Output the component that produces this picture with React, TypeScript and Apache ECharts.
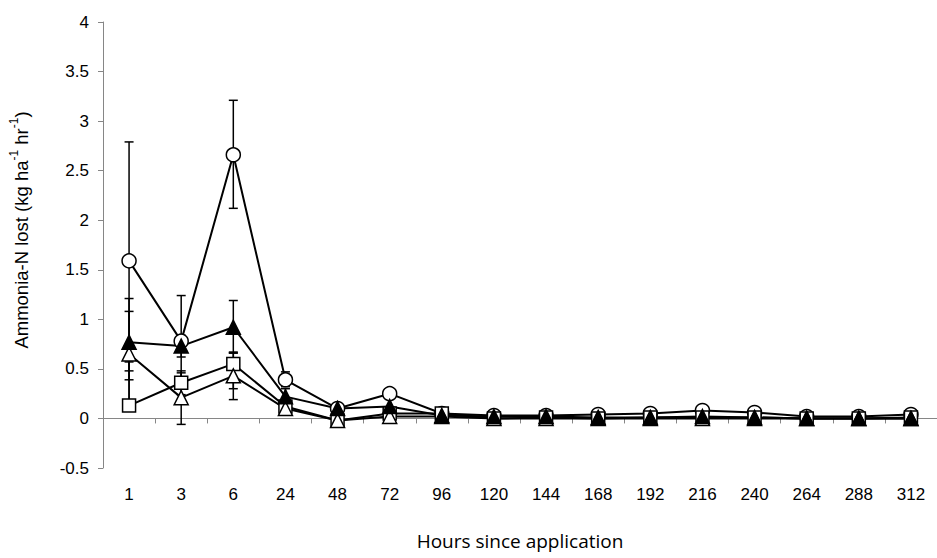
import React, { useEffect, useRef } from "react";
import * as echarts from "echarts";

const categories = ["1", "3", "6", "24", "48", "72", "96", "120", "144", "168", "192", "216", "240", "264", "288", "312"];

const circleValues = [1.59, 0.78, 2.66, 0.39, 0.1, 0.25, 0.05, 0.03, 0.03, 0.04, 0.05, 0.08, 0.06, 0.02, 0.02, 0.04];
const filledTriValues = [0.77, 0.73, 0.92, 0.22, 0.1, 0.12, 0.03, 0.02, 0.02, 0.01, 0.01, 0.02, 0.01, 0.0, 0.0, 0.0];
const squareValues = [0.13, 0.36, 0.55, 0.12, -0.02, 0.05, 0.05, 0.0, 0.01, 0.0, 0.01, 0.01, 0.01, 0.0, 0.0, 0.01];
const openTriValues = [0.65, 0.21, 0.43, 0.1, -0.02, 0.02, 0.02, 0.0, 0.0, 0.0, 0.0, 0.0, 0.0, 0.0, 0.0, 0.0];

// error bar ends [category index, low, high]
const circleErr = [[0, 0.39, 2.79], [1, 0.32, 1.24], [2, 2.12, 3.21], [3, 0.32, 0.47]];
const filledTriErr = [[0, 0.48, 1.08], [1, 0.62, 0.84], [2, 0.66, 1.19], [3, 0.14, 0.3]];
const squareErr = [[0, 0.13, 0.57], [1, 0.24, 0.48], [2, 0.3, 0.66]];
const openTriErr = [[0, 0.09, 1.21], [1, -0.06, 0.46], [2, 0.19, 0.67]];

const yTicksMin = -0.5;
const yTicksMax = 4;
const yInterval = 0.5;

const AXIS_GRAY = "#868686";
const FONT = "Arial";

function errorSeries(data: number[][]) {
  return {
    type: "custom",
    xAxisIndex: 0,
    yAxisIndex: 0,
    z: 1,
    silent: true,
    data,
    renderItem: (_params: any, api: any) => {
      const x = api.value(0);
      const lo = api.coord([x, api.value(1)]);
      const hi = api.coord([x, api.value(2)]);
      const w = 4.5;
      const style = { stroke: "#000", lineWidth: 1.5 };
      return {
        type: "group",
        children: [
          { type: "line", shape: { x1: hi[0], y1: hi[1], x2: lo[0], y2: lo[1] }, style },
          { type: "line", shape: { x1: hi[0] - w, y1: hi[1], x2: hi[0] + w, y2: hi[1] }, style },
          { type: "line", shape: { x1: lo[0] - w, y1: lo[1], x2: lo[0] + w, y2: lo[1] }, style },
        ],
      };
    },
  };
}

function lineSeries(name: string, data: number[], symbol: string, size: number, fill: string) {
  return {
    name,
    type: "line",
    xAxisIndex: 0,
    yAxisIndex: 0,
    data,
    symbol,
    symbolSize: size,
    showAllSymbol: true,
    lineStyle: { color: "#000", width: 2 },
    itemStyle: { color: fill, borderColor: "#000", borderWidth: 1.5 },
    z: 3,
  };
}

export default function App() {
  const ref = useRef<HTMLDivElement>(null);
  useEffect(() => {
    if (!ref.current) return;
    const chart = echarts.init(ref.current, undefined, { renderer: "svg" });
    chart.setOption({
      animation: false,
      backgroundColor: "#fff",
      grid: { left: 102, top: 22, width: 837, height: 446 },
      xAxis: [
        {
          type: "category",
          data: categories,
          boundaryGap: true,
          axisLine: { show: true, onZero: true, lineStyle: { color: AXIS_GRAY, width: 1 } },
          axisTick: { show: true, length: 5, lineStyle: { color: AXIS_GRAY } },
          axisLabel: { show: false },
          splitLine: { show: false },
        },
        {
          type: "category",
          data: categories,
          position: "bottom",
          boundaryGap: true,
          axisLine: { show: false, onZero: false },
          axisTick: { show: false },
          axisLabel: { show: true, margin: 18, color: "#000", fontFamily: FONT, fontSize: 17, interval: 0 },
          splitLine: { show: false },
          name: "Hours since application",
          nameLocation: "middle",
          nameGap: 63,
          nameTextStyle: { color: "#000", fontFamily: "Open Sans", fontSize: 19 },
        },
      ],
      yAxis: {
        type: "value",
        min: yTicksMin,
        max: yTicksMax,
        interval: yInterval,
        axisLine: { show: true, lineStyle: { color: AXIS_GRAY, width: 1 } },
        axisTick: { show: true, length: 5, lineStyle: { color: AXIS_GRAY } },
        splitLine: { show: false },
        axisLabel: { color: "#000", fontFamily: FONT, fontSize: 17, margin: 14 },
        name: "{a|Ammonia-N lost (kg ha}{s|-1}{a| hr}{s|-1}{a|)}",
        nameLocation: "middle",
        nameRotate: 90,
        nameGap: 72,
        nameTextStyle: {
          color: "#000",
          fontFamily: FONT,
          padding: [0, 0, 0, 30],
          rich: {
            a: { fontFamily: FONT, fontSize: 18.5, color: "#000", lineHeight: 23, verticalAlign: "bottom" },
            s: { fontFamily: FONT, fontSize: 12, color: "#000", lineHeight: 23, verticalAlign: "top" },
          },
        },
      },
      series: [
        errorSeries(circleErr),
        errorSeries(filledTriErr),
        errorSeries(squareErr),
        errorSeries(openTriErr),
        lineSeries("circle", circleValues, "circle", 14, "#fff"),
        lineSeries("square", squareValues, "rect", 13, "#fff"),
        lineSeries("openTri", openTriValues, "triangle", 14, "#fff"),
        lineSeries("filledTri", filledTriValues, "triangle", 14, "#000"),
      ],
    });
    return () => chart.dispose();
  }, []);
  return <div ref={ref} style={{ width: 937, height: 558, position: "absolute", left: 0, top: 0 }} />;
}
